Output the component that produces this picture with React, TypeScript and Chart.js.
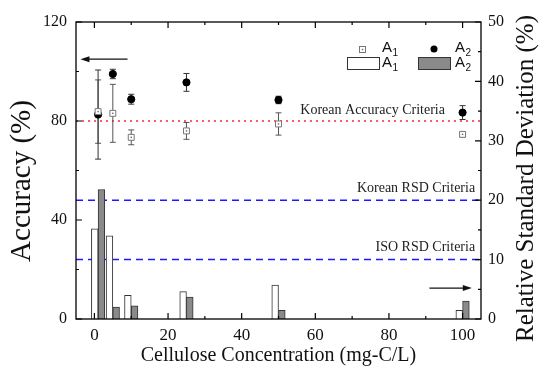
import React, { useEffect, useRef } from 'react';
import { Chart, registerables } from 'chart.js';

Chart.register(...registerables);

// ---------- data ----------
const concentrations = [1, 5, 10, 25, 50, 100];
const accuracyA1 = [83.8, 83.1, 73.4, 76.0, 78.8, 74.6];
const accuracyA1Err = [12.8, 11.7, 3.0, 3.4, 4.5, 1.0];
const accuracyA2 = [82.6, 99.0, 88.8, 95.6, 88.5, 83.4];
const accuracyA2Err = [18.0, 1.9, 2.0, 3.6, 1.5, 2.8];
const rsdA1 = [15.2, 14.0, 4.0, 4.6, 5.7, 1.45];
const rsdA2 = [21.8, 2.0, 2.2, 3.7, 1.45, 3.0];

const xTicks = [0, 20, 40, 60, 80, 100];
const xMinorTicks = [10, 30, 50, 70, 90];
const accTicks = [0, 40, 80, 120];
const accMinorTicks = [20, 60, 100];
const rsdTicks = [0, 10, 20, 30, 40, 50];
const rsdMinorTicks = [5, 15, 25, 35, 45];

const accuracyCriteriaValues = [80];
const accuracyCriteriaLabels = ['Korean Accuracy Criteria'];
const rsdCriteriaValues = [20, 10];
const rsdCriteriaLabels = ['Korean RSD Criteria', 'ISO RSD Criteria'];

const seriesNames = ['A1', 'A2'];
const leftTitle = 'Accuracy (%)';
const rightTitle = 'Relative Standard Deviation (%)';
const bottomTitle = 'Cellulose Concentration (mg-C/L)';

const SERIF = '"Liberation Serif", "Times New Roman", serif';
const SANS = '"Liberation Sans", Arial, sans-serif';

function drawArrow(ctx: CanvasRenderingContext2D, x0: number, x1: number, y: number) {
  const dir = Math.sign(x1 - x0);
  ctx.beginPath();
  ctx.moveTo(x0, y);
  ctx.lineTo(x1 - dir * 7, y);
  ctx.stroke();
  ctx.beginPath();
  ctx.moveTo(x1, y);
  ctx.lineTo(x1 - dir * 9, y - 3);
  ctx.lineTo(x1 - dir * 9, y + 3);
  ctx.closePath();
  ctx.fill();
}

function drawSub(ctx: CanvasRenderingContext2D, name: string, x: number, y: number) {
  const base = name.slice(0, 1);
  const sub = name.slice(1);
  ctx.textAlign = 'left';
  ctx.textBaseline = 'middle';
  ctx.font = `15px ${SANS}`;
  ctx.fillText(base, x, y);
  const w = ctx.measureText(base).width;
  ctx.font = `10px ${SANS}`;
  ctx.fillText(sub, x + w + 0.5, y + 5);
}

function drawVerticalTitle(ctx: CanvasRenderingContext2D, text: string, cx: number, cy: number, size: number) {
  ctx.save();
  ctx.translate(cx, cy);
  ctx.rotate(-Math.PI / 2);
  ctx.font = `${size}px ${SERIF}`;
  ctx.fillStyle = '#111';
  ctx.textAlign = 'center';
  ctx.textBaseline = 'middle';
  ctx.fillText(text, 0, 0);
  ctx.restore();
}

const decorPlugin = {
  id: 'decor',
  beforeDatasetsDraw(chart: any) {
    const { ctx, chartArea: a, scales } = chart;
    const xs = scales.x, ys = scales.y, y1 = scales.y1;
    ctx.save();
    // criteria lines
    ctx.lineWidth = 1.5;
    ctx.strokeStyle = '#ff2a2a';
    ctx.setLineDash([2, 4]);
    accuracyCriteriaValues.forEach((v) => {
      const py = ys.getPixelForValue(v);
      ctx.beginPath();
      ctx.moveTo(a.left, py);
      ctx.lineTo(a.right, py);
      ctx.stroke();
    });
    ctx.strokeStyle = '#1a1aff';
    ctx.setLineDash([7, 5]);
    rsdCriteriaValues.forEach((v) => {
      const py = y1.getPixelForValue(v);
      ctx.beginPath();
      ctx.moveTo(a.left, py);
      ctx.lineTo(a.right, py);
      ctx.stroke();
    });
    ctx.setLineDash([]);
    // criteria labels
    ctx.fillStyle = '#222';
    ctx.font = `14px ${SERIF}`;
    ctx.textAlign = 'right';
    ctx.textBaseline = 'middle';
    accuracyCriteriaValues.forEach((v, i) => {
      ctx.fillText(accuracyCriteriaLabels[i], xs.getPixelForValue(95.2), ys.getPixelForValue(v) - 11);
    });
    rsdCriteriaValues.forEach((v, i) => {
      ctx.fillText(rsdCriteriaLabels[i], xs.getPixelForValue(103.4), y1.getPixelForValue(v) - 12);
    });
    // error bars
    const drawErr = (vals: number[], errs: number[], color: string) => {
      ctx.strokeStyle = color;
      ctx.lineWidth = 1;
      concentrations.forEach((c, i) => {
        const px = xs.getPixelForValue(c);
        const top = ys.getPixelForValue(vals[i] + errs[i]);
        const bot = ys.getPixelForValue(vals[i] - errs[i]);
        ctx.beginPath();
        ctx.moveTo(px, top);
        ctx.lineTo(px, bot);
        ctx.moveTo(px - 3, top);
        ctx.lineTo(px + 3, top);
        ctx.moveTo(px - 3, bot);
        ctx.lineTo(px + 3, bot);
        ctx.stroke();
      });
    };
    drawErr(accuracyA1, accuracyA1Err, '#555');
    drawErr(accuracyA2, accuracyA2Err, '#333');
    ctx.restore();
  },
  afterDatasetsDraw(chart: any) {
    const { ctx, chartArea: a, scales } = chart;
    const xs = scales.x, ys = scales.y, y1 = scales.y1;
    ctx.save();
    // center dots of squares
    const meta = chart.getDatasetMeta(2);
    ctx.fillStyle = '#666';
    meta.data.forEach((p: any) => {
      ctx.fillRect(p.x - 0.7, p.y - 0.7, 1.4, 1.4);
    });
    // frame
    ctx.strokeStyle = '#000';
    ctx.lineWidth = 1.3;
    ctx.strokeRect(a.left, a.top, a.right - a.left, a.bottom - a.top);
    ctx.lineWidth = 1.2;
    ctx.beginPath();
    const hTick = (vals: number[], len: number) => {
      vals.forEach((v) => {
        const px = xs.getPixelForValue(v);
        ctx.moveTo(px, a.bottom);
        ctx.lineTo(px, a.bottom - len);
        ctx.moveTo(px, a.top);
        ctx.lineTo(px, a.top + len);
      });
    };
    hTick(xTicks, 6);
    hTick(xMinorTicks, 3);
    accTicks.forEach((v) => {
      const py = ys.getPixelForValue(v);
      ctx.moveTo(a.left, py);
      ctx.lineTo(a.left + 6, py);
    });
    accMinorTicks.forEach((v) => {
      const py = ys.getPixelForValue(v);
      ctx.moveTo(a.left, py);
      ctx.lineTo(a.left + 3, py);
    });
    rsdTicks.forEach((v) => {
      const py = y1.getPixelForValue(v);
      ctx.moveTo(a.right, py);
      ctx.lineTo(a.right - 6, py);
    });
    rsdMinorTicks.forEach((v) => {
      const py = y1.getPixelForValue(v);
      ctx.moveTo(a.right, py);
      ctx.lineTo(a.right - 3, py);
    });
    ctx.stroke();
    // arrows
    ctx.strokeStyle = '#111';
    ctx.fillStyle = '#111';
    ctx.lineWidth = 1.3;
    drawArrow(ctx, xs.getPixelForValue(9), xs.getPixelForValue(-3.8), ys.getPixelForValue(105));
    drawArrow(ctx, xs.getPixelForValue(91), xs.getPixelForValue(102.5), y1.getPixelForValue(5.2));
    // legend
    ctx.lineWidth = 1;
    ctx.strokeStyle = '#777';
    ctx.fillStyle = '#fff';
    ctx.fillRect(359.5, 46.5, 6, 6);
    ctx.strokeRect(359.5, 46.5, 6, 6);
    ctx.fillStyle = '#666';
    ctx.fillRect(361.8, 48.8, 1.4, 1.4);
    ctx.fillStyle = '#000';
    ctx.beginPath();
    ctx.arc(434, 49, 3.5, 0, Math.PI * 2);
    ctx.fill();
    ctx.strokeStyle = '#333';
    ctx.fillStyle = '#fff';
    ctx.fillRect(347.5, 57.5, 32, 12);
    ctx.strokeRect(347.5, 57.5, 32, 12);
    ctx.fillStyle = '#8a8a8a';
    ctx.fillRect(418.5, 57.5, 32, 12);
    ctx.strokeRect(418.5, 57.5, 32, 12);
    ctx.fillStyle = '#111';
    drawSub(ctx, seriesNames[0], 382, 48);
    drawSub(ctx, seriesNames[1], 455, 48);
    drawSub(ctx, seriesNames[0], 382, 63);
    drawSub(ctx, seriesNames[1], 455, 63);
    // axis titles (both read bottom to top)
    drawVerticalTitle(ctx, leftTitle, 22.5, 181, 29);
    drawVerticalTitle(ctx, rightTitle, 526, 178.5, 25);
    ctx.restore();
  },
};

export default function App() {
  const ref = useRef<HTMLCanvasElement | null>(null);
  useEffect(() => {
    if (!ref.current) return;
    const pts = (ys: number[]) => concentrations.map((x, i) => ({ x, y: ys[i] }));
    const chart = new Chart(ref.current, {
      type: 'bar',
      data: {
        datasets: [
          {
            type: 'bar',
            label: seriesNames[0],
            data: pts(rsdA1),
            yAxisID: 'y1',
            backgroundColor: '#ffffff',
            borderColor: '#333',
            borderWidth: 1,
            barThickness: 6.7,
          } as any,
          {
            type: 'bar',
            label: seriesNames[1],
            data: pts(rsdA2),
            yAxisID: 'y1',
            backgroundColor: '#8a8a8a',
            borderColor: '#333',
            borderWidth: 1,
            barThickness: 6.7,
          } as any,
          {
            type: 'scatter',
            label: seriesNames[0],
            data: pts(accuracyA1),
            yAxisID: 'y',
            pointStyle: 'rect',
            pointRadius: 4.2,
            backgroundColor: '#fff',
            borderColor: '#777',
            borderWidth: 1,
          } as any,
          {
            type: 'scatter',
            label: seriesNames[1],
            data: pts(accuracyA2),
            yAxisID: 'y',
            pointStyle: 'circle',
            pointRadius: 3.6,
            backgroundColor: '#000',
            borderColor: '#000',
            borderWidth: 1,
          } as any,
        ],
      },
      options: {
        animation: false,
        responsive: false,
        maintainAspectRatio: false,
        layout: { padding: { top: 22, left: 0, right: 0, bottom: 0 } },
        plugins: { legend: { display: false }, tooltip: { enabled: false } },
        scales: {
          x: {
            type: 'linear',
            min: -5,
            max: 105,
            offset: false,
            grid: { display: false, drawTicks: false },
            border: { display: false },
            afterBuildTicks: (s: any) => {
              s.ticks = xTicks.map((v) => ({ value: v }));
            },
            afterFit: (s: any) => {
              s.height = 59;
            },
            ticks: { padding: 6, color: '#111', font: { family: SERIF, size: 17 }, maxRotation: 0 },
            title: {
              display: true,
              text: bottomTitle,
              color: '#111',
              font: { family: SERIF, size: 20 },
              padding: { top: 0, bottom: 10 },
            },
          },
          y: {
            type: 'linear',
            position: 'left',
            min: 0,
            max: 120,
            grid: { display: false, drawTicks: false },
            border: { display: false },
            afterBuildTicks: (s: any) => {
              s.ticks = accTicks.map((v) => ({ value: v }));
            },
            afterFit: (s: any) => {
              s.width = 76;
            },
            ticks: { padding: 9, color: '#111', font: { family: SERIF, size: 16 } },
          },
          y1: {
            type: 'linear',
            position: 'right',
            min: 0,
            max: 50,
            grid: { display: false, drawTicks: false },
            border: { display: false },
            afterBuildTicks: (s: any) => {
              s.ticks = rsdTicks.map((v) => ({ value: v }));
            },
            afterFit: (s: any) => {
              s.width = 61;
            },
            ticks: { padding: 7, color: '#111', font: { family: SERIF, size: 16 } },
          },
        },
      } as any,
      plugins: [decorPlugin],
    });
    return () => chart.destroy();
  }, []);
  return (
    <div style={{ position: 'absolute', left: 0, top: 0, width: 542, height: 378, background: '#fff' }}>
      <canvas ref={ref} width={542} height={378} style={{ display: 'block' }} />
    </div>
  );
}
